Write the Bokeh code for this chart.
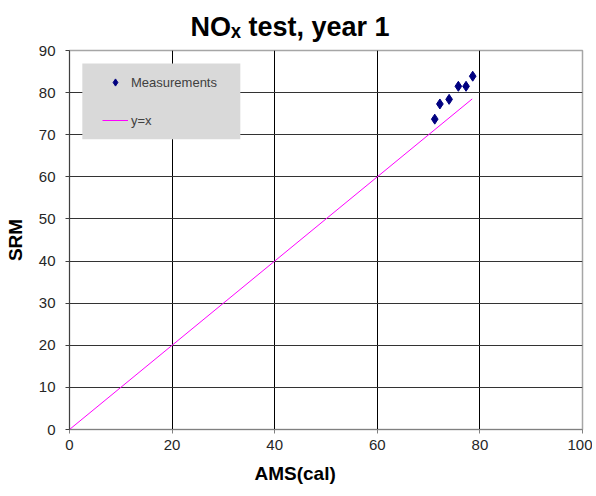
from bokeh.plotting import figure
from bokeh.models import (Range1d, FixedTicker, Legend, LegendItem,
                          BoxAnnotation, Title)
from bokeh.embed import file_html
from bokeh.resources import INLINE

# ---- data ----
ams = [71.2, 72.2, 74.0, 75.8, 77.3, 78.6]
srm = [73.7, 77.3, 78.4, 81.5, 81.5, 83.9]
ref_x = [0, 78.5]
ref_y = [0, 78.5]
x_ticks = [0, 20, 40, 60, 80, 100]
y_ticks = [0, 10, 20, 30, 40, 50, 60, 70, 80, 90]

FONT = "Liberation Sans"

p = figure(width=592, height=494, x_range=Range1d(0, 100), y_range=Range1d(0, 90),
           output_backend="svg", toolbar_location=None,
           min_border_left=69, min_border_right=10, min_border_top=50, min_border_bottom=65)
p.background_fill_color = "white"
p.border_fill_color = "white"
p.outline_line_color = "#a6a6a6"
p.outline_line_width = 1.5

# title with subscript x
p.add_layout(Title(text="NOₓ test, year 1", align="left", offset=121,
                   text_font=FONT, text_font_size="27px", text_font_style="bold",
                   text_color="#000000", standoff=18), "above")

# grids
p.xgrid.ticker = FixedTicker(ticks=x_ticks)
p.ygrid.ticker = FixedTicker(ticks=y_ticks)
p.xgrid.grid_line_color = "#000000"
p.ygrid.grid_line_color = "#333333"

# axes
p.xaxis.ticker = FixedTicker(ticks=x_ticks)
p.yaxis.ticker = FixedTicker(ticks=y_ticks)
for ax in (p.xaxis[0], p.yaxis[0]):
    ax.major_label_text_font = FONT
    ax.major_label_text_font_size = "15px"
    ax.major_label_text_color = "#262626"
    ax.minor_tick_line_color = None
    ax.major_tick_in = 0
    ax.major_tick_out = 4
p.xaxis.axis_line_color = "#808080"
p.xaxis.major_tick_line_color = "#808080"
p.yaxis.axis_line_color = "#404040"
p.yaxis.major_tick_line_color = "#404040"
p.yaxis.major_label_standoff = 10
p.xaxis.major_label_standoff = 6

p.yaxis.axis_label = "SRM"
p.yaxis.axis_label_text_font = FONT
p.yaxis.axis_label_text_font_size = "19px"
p.yaxis.axis_label_text_font_style = "bold"
p.yaxis.axis_label_text_color = "#000000"
p.yaxis.axis_label_standoff = 10

# x axis title, placed below the axis like the reference (left of centre)
p.add_layout(Title(text="AMS(cal)", align="left", offset=185,
                   text_font=FONT, text_font_size="19px", text_font_style="bold",
                   text_color="#000000", standoff=16), "below")

# glyphs
r_line = p.line(ref_x, ref_y, line_color="#ff00ff", line_width=1)
r_pts = p.scatter(ams, srm, marker="diamond", size=10,
                  fill_color="#000080", line_color="#000080")

# legend background box
box = BoxAnnotation(left=2.5, right=33.3, top=86.9, bottom=68.9,
                    fill_color="#d9d9d9", fill_alpha=1, line_color=None)
p.add_layout(box)

legend = Legend(items=[LegendItem(label="Measurements", renderers=[r_pts]),
                       LegendItem(label="y=x", renderers=[r_line])],
                location=(33, 300), padding=0, spacing=20,
                label_height=18, glyph_height=18, glyph_width=26, label_standoff=3,
                border_line_color=None, background_fill_alpha=0,
                label_text_font=FONT, label_text_font_size="13px",
                label_text_color="#404040")
p.add_layout(legend, "center")

open("out.html", "w").write(file_html(p, INLINE))
